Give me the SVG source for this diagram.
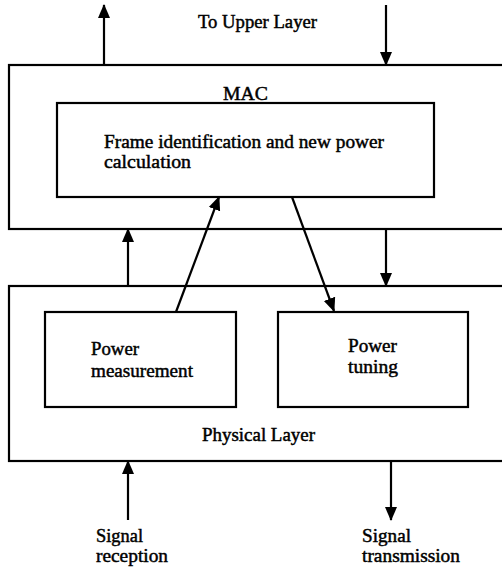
<svg xmlns="http://www.w3.org/2000/svg" width="502" height="571" viewBox="0 0 502 571">
<style>
.box{fill:none;stroke:#000;stroke-width:2.2}
.ln{fill:none;stroke:#000;stroke-width:2.2}
.t{font-family:"Liberation Serif",serif;font-size:18px;fill:#000;stroke:#000;stroke-width:0.45}
</style>
<defs>
<marker id="ah" markerUnits="userSpaceOnUse" markerWidth="14" markerHeight="14" viewBox="0 0 14 14" refX="13" refY="7" orient="auto">
<path d="M0,1 L14,7 L0,13 Z" fill="#000"/>
</marker>
</defs>
<rect width="502" height="571" fill="#fff"/>
<g id="mac">
<rect class="box" x="9" y="65" width="510" height="164"/>
<text class="t" x="223" y="100" textLength="45" lengthAdjust="spacingAndGlyphs" style="font-size:19px">MAC</text>
</g>
<g id="frame">
<rect class="box" x="57" y="103" width="377" height="94"/>
<text class="t" x="104" y="148" textLength="280" lengthAdjust="spacingAndGlyphs">Frame identification and new power</text>
<text class="t" x="104" y="168" textLength="87" lengthAdjust="spacingAndGlyphs">calculation</text>
</g>
<g id="phy">
<rect class="box" x="9" y="286" width="510" height="175"/>
<text class="t" x="202" y="441" textLength="113" lengthAdjust="spacingAndGlyphs">Physical Layer</text>
</g>
<g id="pmeas">
<rect class="box" x="45" y="312" width="191" height="95"/>
<text class="t" x="91" y="355" textLength="48" lengthAdjust="spacingAndGlyphs">Power</text>
<text class="t" x="91" y="377" textLength="102" lengthAdjust="spacingAndGlyphs">measurement</text>
</g>
<g id="ptune">
<rect class="box" x="278" y="312" width="190" height="95"/>
<text class="t" x="348" y="352" textLength="49" lengthAdjust="spacingAndGlyphs">Power</text>
<text class="t" x="348" y="373" textLength="50" lengthAdjust="spacingAndGlyphs">tuning</text>
</g>
<g id="labels">
<text class="t" x="198" y="28" textLength="119" lengthAdjust="spacingAndGlyphs">To Upper Layer</text>
<text class="t" x="96" y="542" textLength="47" lengthAdjust="spacingAndGlyphs">Signal</text>
<text class="t" x="96" y="562" textLength="72" lengthAdjust="spacingAndGlyphs">reception</text>
<text class="t" x="362" y="542" textLength="49" lengthAdjust="spacingAndGlyphs">Signal</text>
<text class="t" x="362" y="562" textLength="98" lengthAdjust="spacingAndGlyphs">transmission</text>
</g>
<g id="connectors">
<line class="ln" x1="104" y1="65" x2="104" y2="5" marker-end="url(#ah)"/>
<line class="ln" x1="386" y1="5" x2="386" y2="65" marker-end="url(#ah)"/>
<line class="ln" x1="128" y1="286" x2="128" y2="229" marker-end="url(#ah)"/>
<line class="ln" x1="386" y1="229" x2="386" y2="286" marker-end="url(#ah)"/>
<line class="ln" x1="176" y1="312" x2="219" y2="197" marker-end="url(#ah)"/>
<line class="ln" x1="292" y1="197" x2="334" y2="311" marker-end="url(#ah)"/>
<line class="ln" x1="128" y1="520" x2="128" y2="461" marker-end="url(#ah)"/>
<line class="ln" x1="391" y1="461" x2="391" y2="520" marker-end="url(#ah)"/>
</g>
</svg>
